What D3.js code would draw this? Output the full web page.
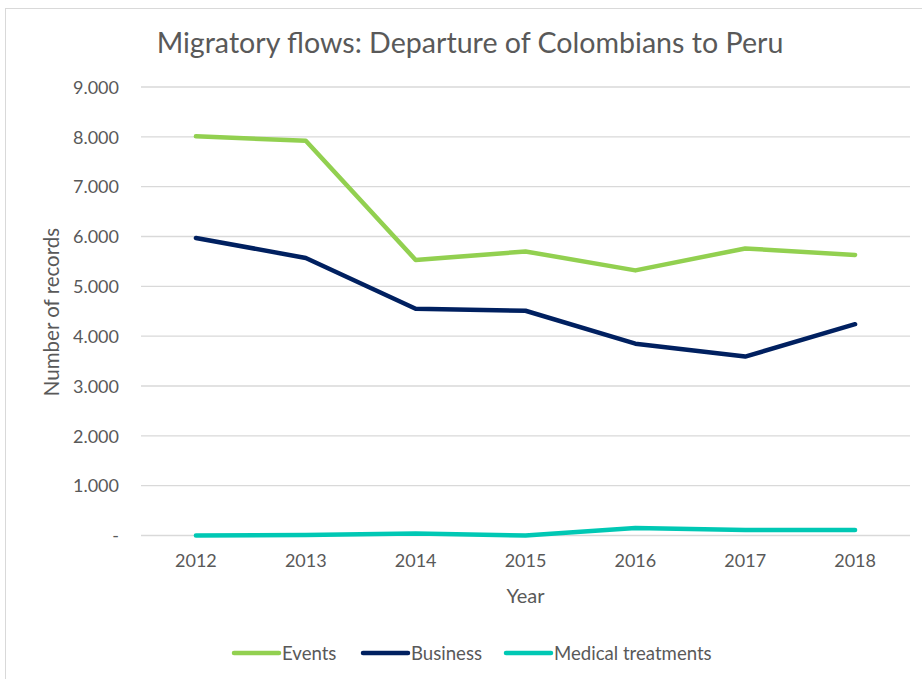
<!DOCTYPE html>
<html>
<head>
<meta charset="utf-8">
<script src="https://cdn.jsdelivr.net/npm/d3@7"></script>
<style>
  html, body { margin: 0; padding: 0; background: #fff; }
  svg { display: block; }
  text { font-family: Lato, "Open Sans", sans-serif; fill: #595959; }
</style>
</head>
<body>
<svg id="chart" width="922" height="679"></svg>
<script>
// Departures of Colombians to Peru by reason of travel
const years = ["2012", "2013", "2014", "2015", "2016", "2017", "2018"];
const events = [8010, 7920, 5530, 5700, 5320, 5760, 5630];
const business = [5970, 5570, 4550, 4510, 3850, 3590, 4240];
const medical = [0, 10, 40, 0, 150, 110, 110];
const yTicks = [0, 1000, 2000, 3000, 4000, 5000, 6000, 7000, 8000, 9000];

const seriesNames = ["Events", "Business", "Medical treatments"];
const seriesColors = ["#92D050", "#002060", "#00C8B4"];
const seriesValues = [events, business, medical];

const svg = d3.select("#chart");

// outer chart frame
svg.append("rect")
  .attr("x", 5.5).attr("y", 8.5)
  .attr("width", 930).attr("height", 690)
  .attr("fill", "none").attr("stroke", "#D9D9D9").attr("stroke-width", 1);

const plot = { left: 141, right: 910, top: 87, bottom: 535.5 };

const x = d3.scaleBand().domain(years).range([plot.left, plot.right]);
const y = d3.scaleLinear().domain([0, 9000]).range([plot.bottom, plot.top]);

// thousands separator with a dot, zero shown as a dash
const fmt = v => v === 0 ? "-" : d3.format(",")(v).replace(/,/g, ".");

// horizontal gridlines
svg.append("g")
  .selectAll("line")
  .data(yTicks)
  .join("line")
  .attr("x1", plot.left).attr("x2", plot.right)
  .attr("y1", d => y(d)).attr("y2", d => y(d))
  .attr("stroke", "#D9D9D9").attr("stroke-width", 1.3);

// y axis labels
const yAxis = svg.append("g")
  .attr("transform", `translate(${plot.left - 22},0)`)
  .call(d3.axisLeft(y).tickValues(yTicks).tickFormat(fmt).tickSize(0).tickPadding(0));
yAxis.select(".domain").remove();
yAxis.selectAll("text")
  .attr("font-size", 18)
  .attr("font-family", "Lato, sans-serif")
  .attr("fill", "#595959")
  .attr("dy", "0.35em");

// x axis labels
const xAxis = svg.append("g")
  .attr("transform", `translate(0,${plot.bottom + 19})`)
  .call(d3.axisBottom(x).tickSize(0).tickPadding(0));
xAxis.select(".domain").remove();
xAxis.selectAll("text")
  .attr("font-size", 18)
  .attr("font-family", "Lato, sans-serif")
  .attr("fill", "#595959")
  .attr("dy", "0.71em");

// series lines
const line = d3.line()
  .x((d, i) => x(years[i]) + x.bandwidth() / 2)
  .y(d => y(d));

svg.append("g")
  .selectAll("path")
  .data(seriesValues)
  .join("path")
  .attr("d", d => line(d))
  .attr("fill", "none")
  .attr("stroke", (d, i) => seriesColors[i])
  .attr("stroke-width", 4.5)
  .attr("stroke-linecap", "round")
  .attr("stroke-linejoin", "round");

// title
svg.append("text")
  .attr("x", 470).attr("y", 53)
  .attr("text-anchor", "middle")
  .attr("font-size", 28.6)
  .text("Migratory flows: Departure of Colombians to Peru");

// axis titles
svg.append("text")
  .attr("x", (plot.left + plot.right) / 2).attr("y", 603)
  .attr("text-anchor", "middle")
  .attr("font-size", 20)
  .text("Year");

svg.append("text")
  .attr("transform", "translate(59,312) rotate(-90)")
  .attr("text-anchor", "middle")
  .attr("font-size", 20.5)
  .text("Number of records");

// legend
const legendX = [234, 363, 506];
const legend = svg.append("g")
  .selectAll("g")
  .data(seriesNames)
  .join("g")
  .attr("transform", (d, i) => `translate(${legendX[i]},653)`);
legend.append("line")
  .attr("x1", 0).attr("x2", 45)
  .attr("y1", 0).attr("y2", 0)
  .attr("stroke", (d, i) => seriesColors[i])
  .attr("stroke-width", 4.5)
  .attr("stroke-linecap", "round");
legend.append("text")
  .attr("x", 48).attr("y", 0)
  .attr("dy", "0.35em")
  .attr("font-size", 18.6)
  .text(d => d);
</script>
</body>
</html>
